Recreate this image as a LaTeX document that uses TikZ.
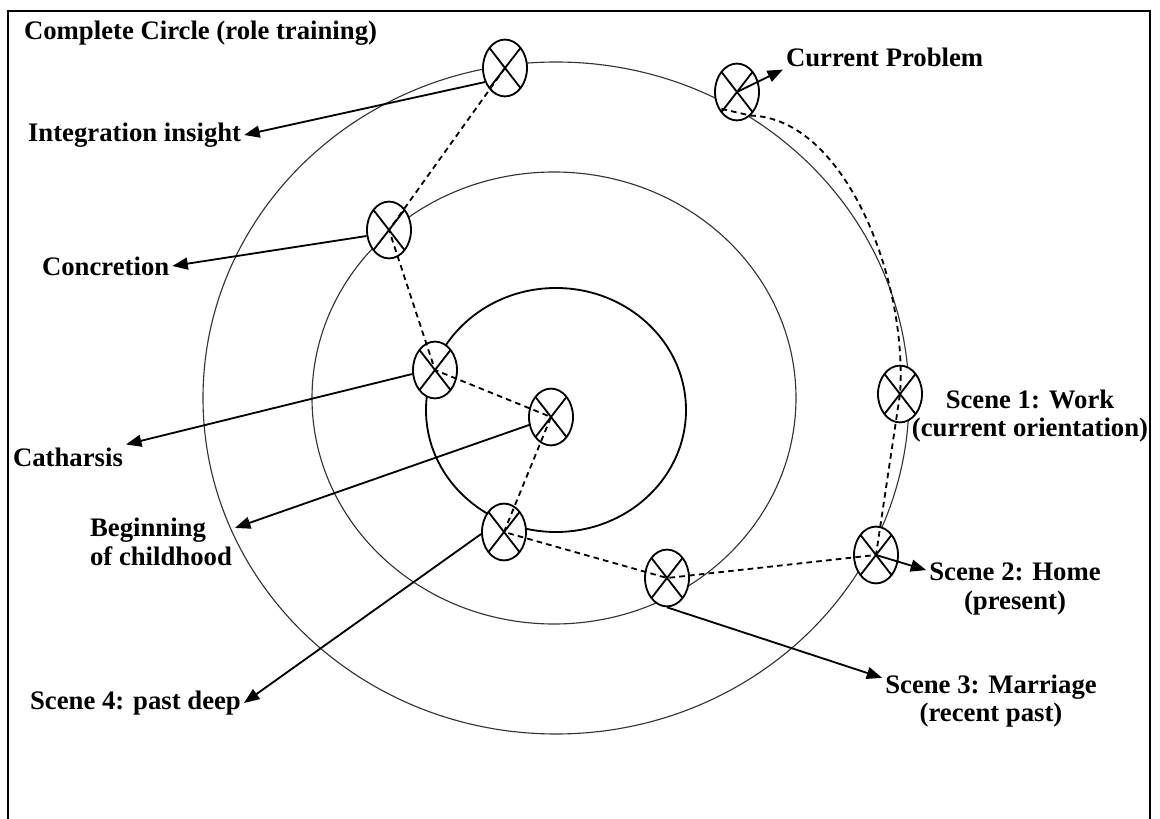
\documentclass[tikz,border=0pt]{standalone}
\usepackage{fontspec}
\setmainfont{Liberation Serif}
\usetikzlibrary{shapes.geometric,arrows.meta}

\tikzset{
  xring/.style={draw, ellipse, fill=white, line width=1.3pt, inner sep=0pt,
    minimum width=1.1cm, minimum height=1.42cm,
    path picture={\draw[line width=1.3pt]
      (path picture bounding box.north west) -- (path picture bounding box.south east)
      (path picture bounding box.north east) -- (path picture bounding box.south west);}},
  lbl/.style={font=\fontsize{19}{20.5}\selectfont\bfseries, inner sep=2pt},
  pointer/.style={line width=1.3pt, -{Triangle[length=11pt,width=8.5pt]}},
  trail/.style={line width=1.3pt, dash pattern=on 4pt off 3pt}
}

\begin{document}
\begin{tikzpicture}[x=0.025cm, y=-0.025cm]
  \useasboundingbox (0,0) rectangle (1160,819);
  \draw[line width=1.4pt] (8,819) -- (8,11) -- (1150,11) -- (1150,819);

  % the three rings
  \draw[black!80, line width=0.8pt] (556,398) ellipse [x radius=353, y radius=336];
  \draw[black!80, line width=0.8pt] (554,398) ellipse [x radius=242, y radius=226];
  \draw[line width=1.3pt] (556,410) ellipse [x radius=130, y radius=122];

  % stations
  \node[xring] (integ) at (505,68) {};
  \node[xring] (cur) at (737,92) {};
  \node[xring] (concr) at (389,230) {};
  \node[xring] (cath) at (435,370) {};
  \node[xring] (begin) at (551,417) {};
  \node[xring] (sfour) at (504,532) {};
  \node[xring] (sthree) at (667,578) {};
  \node[xring] (stwo) at (876,555) {};
  \node[xring] (sone) at (900,394) {};

  % labels
  \node[lbl, anchor=west] (title) at (21,33) {Complete Circle (role training)};
  \node[lbl, anchor=west] (intlbl) at (25,135) {Integration insight};
  \node[lbl, anchor=west] (conlbl) at (39,266) {Concretion};
  \node[lbl, anchor=west] (cathlbl) at (10,457) {Catharsis};
  \node[lbl, anchor=west, align=left] (beglbl) at (87,542) {Beginning\\of childhood};
  \node[lbl, anchor=west] (sfourlbl) at (27,703) {Scene 4: past deep};
  \node[lbl, anchor=west] (curlbl) at (783,57) {Current Problem};
  \node[lbl, align=center] (sonelbl) at (1030,416) {Scene 1: Work\\(current orientation)};
  \node[lbl, align=center] (stwolbl) at (1015,589) {Scene 2: Home\\(present)};
  \node[lbl, align=center] (sthreelbl) at (991,701) {Scene 3: Marriage\\(recent past)};

  % the path through the scenes
  \draw[trail] (integ.center) -- (concr.center) -- (cath.center) -- (begin.center)
    -- (sfour.center) -- (sthree.center) -- (stwo.center) -- (sone.center)
    .. controls (908,280) and (845,118) .. (cur.300) -- (cur.220);

  % pointers to the labels
  \draw[pointer] (integ.215) -- (intlbl.east);
  \draw[pointer] (cur.center) -- (curlbl.south west);
  \draw[pointer] (concr.195) -- (conlbl.east);
  \draw[pointer] (cath.190) -- (cathlbl.north east);
  \draw[pointer] (begin.200) -- ([yshift=10pt]beglbl.east);
  \draw[pointer] (sfour.185) -- (sfourlbl.east);
  \draw[pointer] (sthree.south) -- (sthreelbl.168);
  \draw[pointer] (stwo.center) -- (stwolbl.168);
\end{tikzpicture}
\end{document}
